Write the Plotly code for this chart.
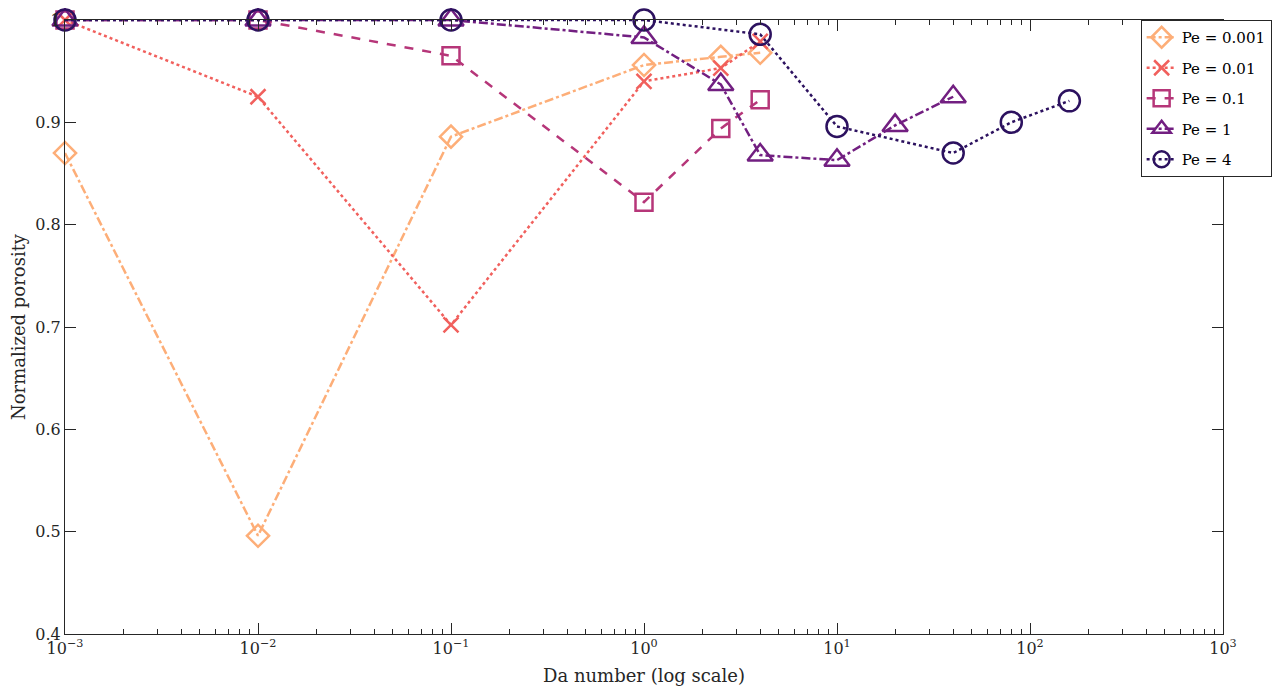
import plotly.graph_objects as go
import numpy as np

# Data
da_001 = [0.001, 0.01, 0.1, 1, 2.5, 4]
por_001 = [0.870, 0.496, 0.886, 0.956, 0.964, 0.968]

da_01 = [0.001, 0.01, 0.1, 1, 2.5, 4]
por_01 = [1.0, 0.925, 0.702, 0.940, 0.953, 0.979]

da_1 = [0.001, 0.01, 0.1, 1, 2.5, 4]
por_1 = [1.0, 1.0, 0.965, 0.822, 0.894, 0.922]

da_10 = [0.001, 0.01, 0.1, 1, 2.5, 4, 10, 20, 40]
por_10 = [1.0, 1.0, 1.0, 0.983, 0.937, 0.868, 0.863, 0.897, 0.925]

da_40 = [0.001, 0.01, 0.1, 1, 4, 10, 40, 80, 160]
por_40 = [1.0, 1.0, 1.0, 1.0, 0.986, 0.896, 0.870, 0.900, 0.921]

names = ["Pe = 0.001", "Pe = 0.01", "Pe = 0.1", "Pe = 1", "Pe = 4"]
colors = ["#fdae78", "#f1605d", "#b63679", "#721f81", "#2c115f"]
dashes = ["dashdot", "dot", "dash", "dashdot", "dot"]
symbols = ["diamond-open", "x-thin", "square-open", "triangle-up-open", "circle-open"]
sizes = [17, 15, 17, 22, 21]

xs = [da_001, da_01, da_1, da_10, da_40]
ys = [por_001, por_01, por_1, por_10, por_40]

FONT = "DejaVu Serif"

fig = go.Figure()
for i, (x, y, n, c, d, s, sz) in enumerate(zip(xs, ys, names, colors, dashes, symbols, sizes)):
    fig.add_trace(go.Scatter(
        x=x, y=y, name=n, mode="lines+markers", legendgroup="g%d" % i,
        line=dict(color=c, width=2.5, dash=d),
        marker=dict(symbol=s, size=sz, color=c, line=dict(color=c, width=2.5)),
        cliponaxis=False,
    ))

major = [10.0 ** k for k in range(-3, 4)]
minor_vals = [m * 10.0 ** k for k in range(-3, 3) for m in range(2, 10)]
ticktext = ["10<sup>%s</sup>" % (str(k).replace("-", "\u2212")) for k in range(-3, 4)]

fig.update_layout(
    width=1276, height=683,
    margin=dict(l=57, r=52, t=12, b=57),
    plot_bgcolor="white", paper_bgcolor="white",
    font=dict(family=FONT, size=16, color="#262626"),
    showlegend=True,
    legend=dict(
        x=1.042, y=1.0, xanchor="right", yanchor="top",
        bgcolor="white", bordercolor="#262626", borderwidth=1,
        font=dict(family=FONT, size=15, color="#000000"),
        itemwidth=30, tracegroupgap=8,
    ),
)
fig.update_xaxes(
    type="log", range=[-3, 3], automargin=False,
    tickmode="array", tickvals=major, ticktext=ticktext,
    ticks="inside", ticklen=11, tickwidth=1, tickcolor="#262626",
    minor=dict(tickmode="array", tickvals=minor_vals, ticks="inside", ticklen=5,
               tickcolor="#262626", showgrid=False),
    showline=True, linecolor="#262626", linewidth=1, mirror="ticks",
    showgrid=False, zeroline=False,
    title=dict(text="Da number (log scale)", font=dict(family=FONT, size=18), standoff=12),
    tickfont=dict(family=FONT, size=16),
)
fig.update_yaxes(
    range=[0.4, 1.0], automargin=False,
    tickmode="array", tickvals=[0.4, 0.5, 0.6, 0.7, 0.8, 0.9, 1.0],
    ticktext=["0.4", "0.5", "0.6", "0.7", "0.8", "0.9", "1"],
    ticks="inside", ticklen=11, tickwidth=1, tickcolor="#262626",
    showline=True, linecolor="#262626", linewidth=1, mirror="ticks",
    showgrid=False, zeroline=False,
    title=dict(text="Normalized porosity", font=dict(family=FONT, size=18), standoff=6),
    tickfont=dict(family=FONT, size=16),
)

fig.write_html("out.html")
